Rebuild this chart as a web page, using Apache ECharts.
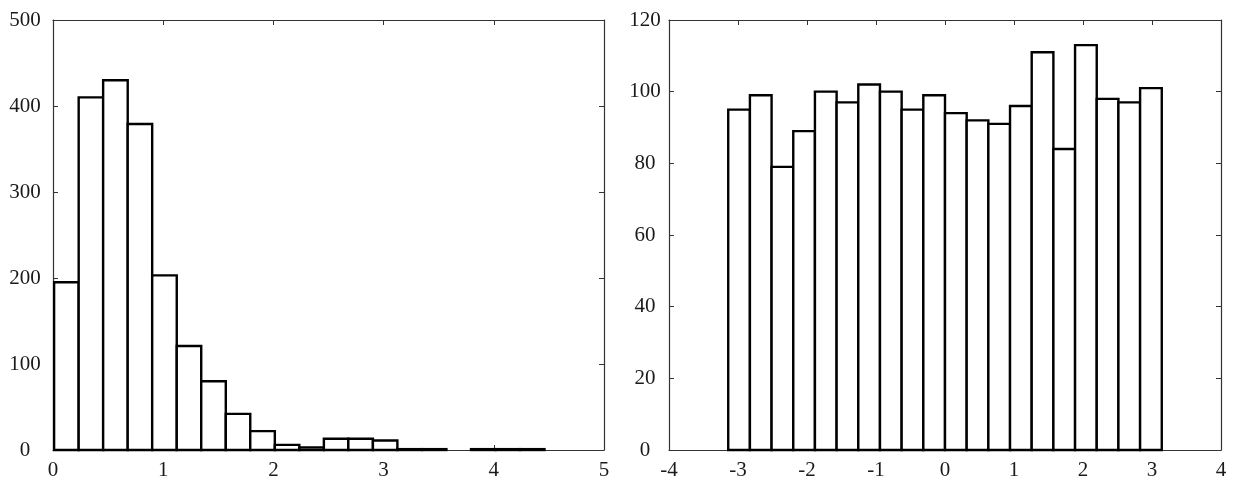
<!DOCTYPE html>
<html>
<head>
<meta charset="utf-8">
<title>Histograms</title>
<script src="https://cdn.jsdelivr.net/npm/echarts@6/dist/echarts.min.js"></script>
<style>
  html, body { margin: 0; padding: 0; background: #fff; }
  #chart { width: 1233px; height: 481px; }
</style>
</head>
<body>
<div id="chart"></div>
<script>
// Left histogram: bin edges and counts
const leftBinEdges = [0.010, 0.233, 0.455, 0.678, 0.900, 1.123, 1.345, 1.568, 1.790, 2.013,
                      2.235, 2.458, 2.680, 2.903, 3.125, 3.348, 3.570, 3.793, 4.015, 4.238, 4.460];
const leftCounts = [195, 410, 430, 379, 203, 121, 80, 42, 22, 6,
                    3, 13, 13, 11, 1, 1, 0, 1, 1, 1];
const leftXTicks = [0, 1, 2, 3, 4, 5];
const leftYTicks = [0, 100, 200, 300, 400, 500];

// Right histogram: bins over [-pi, pi]
const rightBinEdges = [-3.1416, -2.8274, -2.5133, -2.1991, -1.8850, -1.5708, -1.2566, -0.9425,
                       -0.6283, -0.3142, 0.0000, 0.3142, 0.6283, 0.9425, 1.2566, 1.5708,
                       1.8850, 2.1991, 2.5133, 2.8274, 3.1416];
const rightCounts = [95, 99, 79, 89, 100, 97, 102, 100, 95, 99,
                     94, 92, 91, 96, 111, 84, 113, 98, 97, 101];
const rightXTicks = [-4, -3, -2, -1, 0, 1, 2, 3, 4];
const rightYTicks = [0, 20, 40, 60, 80, 100, 120];

const FONT = 'Liberation Serif';
const INK = '#1a1a1a';
const FRAME = '#333';

function binData(edges, counts) {
  return counts.map((c, i) => [edges[i], edges[i + 1], c]);
}

function renderBin(params, api) {
  const h = api.value(2);
  if (!h) return null;
  const p0 = api.coord([api.value(0), 0]);
  const p1 = api.coord([api.value(1), h]);
  return {
    type: 'rect',
    shape: { x: p0[0], y: p1[1], width: p1[0] - p0[0], height: p0[1] - p1[1] },
    style: { fill: '#fff', stroke: '#000', lineWidth: 2.4 }
  };
}

function axisBase(gridIndex, ticks) {
  return {
    type: 'value', gridIndex,
    min: ticks[0], max: ticks[ticks.length - 1], interval: ticks[1] - ticks[0],
    splitLine: { show: false },
    axisLine: { show: true, onZero: false, lineStyle: { color: FRAME, width: 1.2 } },
    axisTick: { show: true, inside: true, length: 5, lineStyle: { color: FRAME, width: 1 } }
  };
}

function xAxes(gridIndex, ticks) {
  return [
    Object.assign(axisBase(gridIndex, ticks), {
      position: 'bottom',
      axisLabel: { show: true, color: INK, fontFamily: FONT, fontSize: 21, margin: 10,
                   formatter: v => String(v) }
    }),
    Object.assign(axisBase(gridIndex, ticks), { position: 'top', axisLabel: { show: false } })
  ];
}

function yAxes(gridIndex, ticks, labelMargin) {
  return [
    Object.assign(axisBase(gridIndex, ticks), {
      position: 'left',
      axisLabel: { show: true, color: INK, fontFamily: FONT, fontSize: 21, margin: labelMargin,
                   align: 'center', verticalAlign: 'middle', padding: [0, 0, 7, 0] }
    }),
    Object.assign(axisBase(gridIndex, ticks), { position: 'right', axisLabel: { show: false } })
  ];
}

const chart = echarts.init(document.getElementById('chart'), null, { renderer: 'canvas' });

chart.setOption({
  animation: false,
  backgroundColor: '#fff',
  grid: [
    { left: 53, right: 629, top: 20, bottom: 26, show: false },
    { left: 669, right: 12, top: 20, bottom: 26, show: false }
  ],
  xAxis: [...xAxes(0, leftXTicks), ...xAxes(1, rightXTicks)],
  yAxis: [...yAxes(0, leftYTicks, 28), ...yAxes(1, rightYTicks, 24)],
  series: [
    {
      type: 'custom', xAxisIndex: 0, yAxisIndex: 0,
      renderItem: renderBin, encode: { x: [0, 1], y: 2 },
      data: binData(leftBinEdges, leftCounts), clip: false, z: 3
    },
    {
      type: 'custom', xAxisIndex: 2, yAxisIndex: 2,
      renderItem: renderBin, encode: { x: [0, 1], y: 2 },
      data: binData(rightBinEdges, rightCounts), clip: false, z: 3
    }
  ]
});
</script>
</body>
</html>
